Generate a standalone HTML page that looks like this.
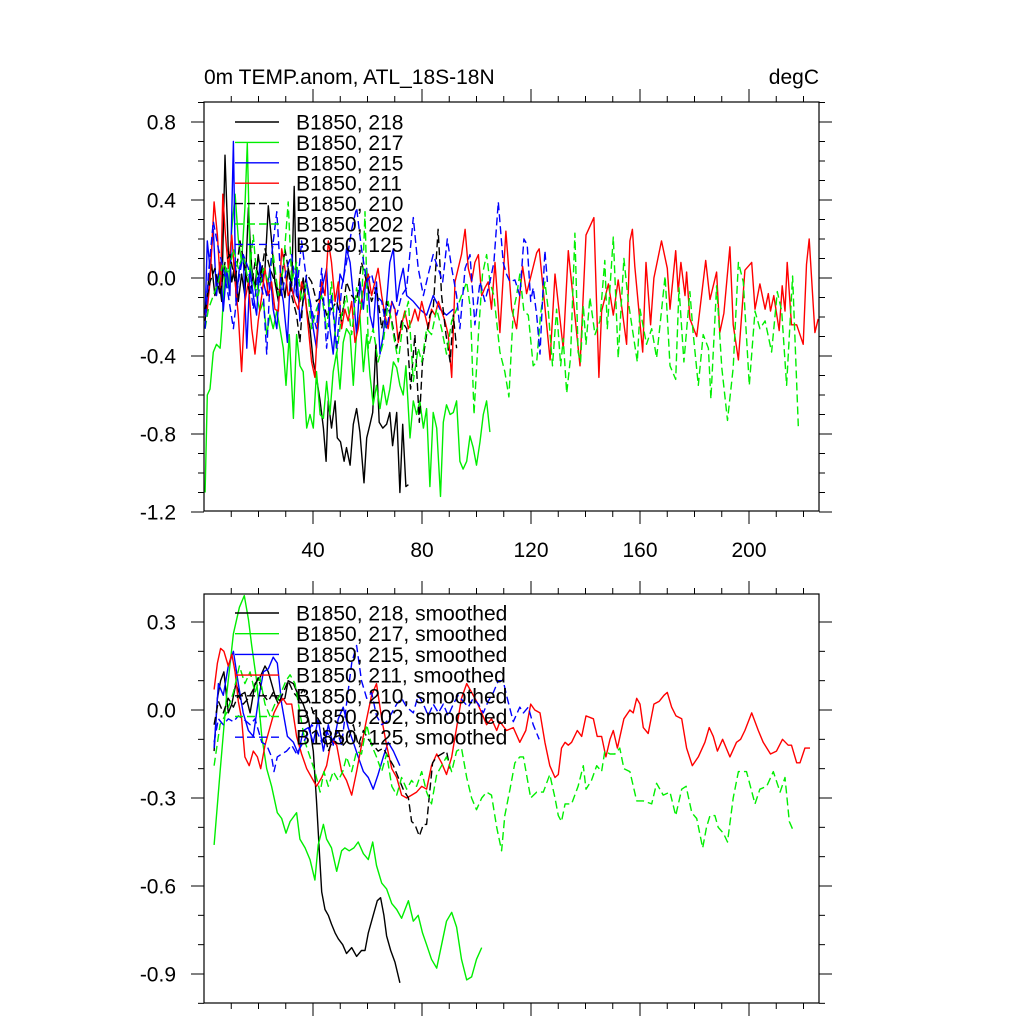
<!DOCTYPE html>
<html><head><meta charset="utf-8"><style>
html,body{margin:0;padding:0;background:#fff;}
svg text{font-family:"Liberation Sans",sans-serif;fill:#000;}
</style></head><body>
<svg id="chart" width="1024" height="1024" viewBox="0 0 1024 1024" xmlns="http://www.w3.org/2000/svg">
<defs>
<clipPath id="clipTop"><rect x="204" y="102" width="615" height="409"/></clipPath>
<clipPath id="clipBot"><rect x="204" y="594" width="615" height="409"/></clipPath>
</defs>
<rect width="1024" height="1024" fill="#fff"/>
<text x="204" y="84" font-size="21">0m TEMP.anom, ATL_18S-18N</text>
<text x="819" y="84" font-size="21" text-anchor="end">degC</text>
<g id="top"></g>
<g id="bot"></g>
</svg>
<script>
// ---------- data: raw annual anomalies ----------
const names = ["B1850, 218","B1850, 217","B1850, 215","B1850, 211","B1850, 210","B1850, 202","B1850, 125"];
const colors = ["#000","#00ee00","#0000ff","#ff0000","#000","#00ee00","#0000ff"];
const dashed = [false,false,false,false,true,true,true];
const topTicksY = [0.8,0.4,0.0,-0.4,-0.8,-1.2];
const topTickLabels = ["0.8","0.4","0.0","-0.4","-0.8","-1.2"];
const botTicksY = [0.3,0.0,-0.3,-0.6,-0.9];
const botTickLabels = ["0.3","0.0","-0.3","-0.6","-0.9"];
const xTicks = [40,80,120,160,200];
const xTickLabels = ["40","80","120","160","200"];

const yr218 = [0.4,1.6,2.8,4.0,5.3,6.5,7.7,8.9,10.2,11.4,12.6,13.8,15.0,16.3,17.5,18.7,19.9,21.2,22.4,23.6,24.8,26.0,27.3,28.5,29.7,30.9,32.2,33.1,34.0,35.2,36.4,37.7,38.9,40.1,41.3,42.6,43.8,44.8,45.6,46.8,48.1,48.9,50.1,51.4,52.3,53.6,54.8,56.0,57.2,58.7,59.7,60.9,61.9,63.1,64.3,65.6,67.0,68.2,69.2,70.7,71.9,72.9,74.1,75.0];
const val218 = [-0.22,-0.02,0.07,-0.09,0.02,-0.12,0.63,0.14,-0.02,0.08,-0.12,0.02,-0.09,0.36,0.05,-0.05,0.12,-0.02,0.05,0.37,0.19,-0.02,-0.12,0.02,-0.1,0.05,-0.04,0.47,-0.09,-0.12,0.0,-0.16,-0.26,-0.43,-0.51,-0.63,-0.77,-0.94,-0.63,-0.77,-0.63,-0.82,-0.84,-0.94,-0.87,-0.96,-0.75,-0.67,-0.79,-1.05,-0.82,-0.75,-0.69,-0.34,-0.74,-0.77,-0.75,-0.69,-0.86,-0.69,-1.1,-0.75,-1.07,-1.06];

const yr217 = [0.4,1.2,2.2,3.4,4.6,5.9,6.5,7.7,8.9,10.2,11.4,12.6,13.8,15.0,15.9,16.9,18.1,19.3,20.5,21.8,23.0,24.2,25.4,26.7,27.9,29.1,30.1,31.3,32.8,34.0,35.2,36.4,37.7,38.9,40.1,41.3,42.6,43.8,45.0,46.2,47.4,48.7,49.9,51.1,52.3,53.6,54.8,56.0,57.2,58.5,59.7,60.9,62.1,63.3,64.6,65.8,67.0,68.2,69.5,70.7,71.9,73.1,74.1,75.6,76.8,78.0,79.2,80.5,81.7,82.9,84.1,85.4,86.8,87.8,89.0,90.3,91.5,92.7,93.9,95.1,96.4,97.6,98.8,100.0,101.3,102.5,103.7,104.9];
const val217 = [-1.1,-0.6,-0.57,-0.38,-0.34,-0.36,-0.26,0.05,-0.05,0.25,0.43,0.2,0.08,0.36,0.69,0.08,-0.02,-0.09,-0.17,-0.12,-0.29,-0.19,-0.26,-0.17,-0.26,-0.36,-0.55,-0.29,-0.72,-0.29,-0.45,-0.48,-0.77,-0.7,-0.77,-0.48,-0.7,-0.72,-0.53,-0.7,-0.48,-0.38,-0.57,-0.33,-0.26,-0.29,-0.55,-0.28,-0.19,-0.48,-0.29,-0.5,-0.65,-0.55,-0.67,-0.55,-0.65,-0.57,-0.43,-0.46,-0.55,-0.6,-0.45,-0.82,-0.63,-0.7,-0.63,-0.77,-0.67,-1.07,-0.69,-0.77,-1.12,-0.74,-0.65,-0.7,-0.69,-0.63,-0.94,-0.98,-0.94,-0.81,-0.87,-0.96,-0.84,-0.7,-0.63,-0.79];

const yr215 = [0.4,1.2,2.2,3.4,4.6,5.9,7.1,8.3,9.5,10.8,11.7,13.0,14.4,15.7,16.9,18.1,19.3,20.5,21.8,23.0,24.2,25.4,26.7,27.9,29.1,30.6,31.6,32.8,34.0,35.2,36.4,37.7,38.9,40.1,41.3,42.6,43.8,45.0,46.2,47.4,48.7,49.9,51.1,52.3,53.6,54.8,56.0,57.2,58.5,59.7,60.9,62.1,63.3,64.6,65.8,67.0,68.2,69.5,70.7,71.9,73.1,74.4,76.8,79.2,81.7,84.1,86.6,89.0,91.5];
const val215 = [-0.19,0.19,0.05,0.25,-0.09,0.08,-0.17,0.05,-0.09,0.7,-0.12,0.05,0.12,-0.36,0.05,-0.09,-0.19,0.08,-0.02,-0.09,0.05,-0.16,-0.26,-0.02,-0.12,-0.33,-0.02,-0.09,0.05,-0.22,-0.12,-0.02,-0.12,-0.26,-0.36,-0.12,-0.02,0.05,-0.26,-0.39,-0.17,0.02,-0.02,0.15,0.08,-0.09,-0.29,-0.02,-0.16,0.05,-0.19,-0.26,-0.02,-0.39,-0.29,-0.12,0.08,0.15,-0.12,-0.02,0.05,-0.09,-0.12,-0.16,-0.19,-0.09,-0.16,-0.19,-0.16];

const yr211 = [0.4,1.2,2.2,3.7,4.9,6.1,6.9,7.7,8.9,10.2,11.4,12.6,13.8,15.0,16.3,17.5,18.7,19.9,21.2,22.4,23.6,24.8,26.0,27.3,28.5,29.7,30.9,32.2,33.4,34.6,35.8,37.1,38.3,39.5,40.7,41.9,43.2,44.4,45.6,46.8,48.1,49.3,50.5,51.7,52.9,54.2,55.4,56.6,57.8,59.1,60.3,61.5,62.7,63.9,65.2,66.4,67.6,68.9,70.1,71.3,72.5,73.7,75.0,76.2,77.4,78.6,79.9,81.1,82.3,83.5,84.8,86.0,87.2,88.4,89.6,90.9,92.1,93.3,94.5,95.8,97.0,98.2,99.4,100.7,101.9,103.1,104.3,105.5,106.8,108.6,110.8,112.9,114.7,116.9,118.4,122.1,123.0,127.0,128.8,131.8,133.7,138.0,140.2,143.1,144.9,145.9,148.4,150.2,152.0,155.1,156.3,157.2,158.1,161.0,162.2,163.9,165.1,167.9,170.0,171.0,173.1,174.0,175.0,176.5,177.1,178.3,180.8,184.1,185.7,188.1,189.3,190.8,193.0,194.2,196.1,198.5,201.0,202.2,204.0,205.9,207.1,207.9,209.1,211.1,212.2,213.2,214.0,215.6,217.5,219.9,221.1,222.1,224.2,225.4];
const val211 = [-0.19,-0.16,-0.02,0.39,0.22,-0.05,0.43,0.25,0.05,0.22,-0.02,-0.19,-0.48,-0.12,-0.02,-0.26,-0.39,-0.22,-0.09,0.05,-0.09,-0.02,-0.16,-0.17,0.15,0.05,-0.09,-0.05,-0.12,-0.16,-0.02,-0.09,-0.26,-0.43,-0.51,-0.17,-0.02,-0.09,0.19,0.08,-0.12,-0.02,-0.26,-0.16,-0.22,-0.12,-0.33,-0.26,-0.12,-0.02,0.02,-0.09,-0.02,0.05,-0.09,-0.19,-0.26,-0.12,-0.16,-0.33,-0.24,-0.17,-0.26,-0.22,-0.16,-0.22,-0.12,-0.19,-0.26,-0.16,-0.19,-0.12,-0.17,-0.22,-0.29,-0.51,-0.02,0.05,0.12,0.25,0.05,-0.02,0.08,0.12,-0.09,-0.05,-0.02,-0.16,0.08,-0.28,0.24,-0.16,-0.26,0.06,-0.08,0.13,0.15,-0.42,0.02,-0.36,0.14,-0.45,0.22,0.31,-0.51,-0.17,-0.03,-0.19,-0.01,-0.34,0.19,0.25,0.06,-0.38,0.08,-0.24,0.0,0.19,0.05,-0.16,0.14,-0.07,0.08,-0.09,0.03,-0.21,-0.3,0.09,-0.11,0.03,-0.28,-0.18,0.16,-0.24,-0.42,0.04,0.08,-0.16,-0.03,-0.16,-0.08,-0.17,-0.09,-0.27,-0.04,-0.17,0.08,-0.24,-0.24,-0.34,0.07,0.2,-0.28,-0.21];

const yr210 = [0.4,2.2,4.0,5.9,7.7,9.5,11.4,13.2,15.0,16.9,18.7,20.5,22.4,24.2,26.0,27.9,29.7,30.9,32.2,34.0,35.2,36.4,37.7,39.5,41.3,43.2,45.0,46.8,48.7,50.5,52.3,54.2,56.0,57.8,59.7,61.5,63.3,65.2,67.0,68.9,70.7,72.5,74.4,75.8,77.4,79.0,80.2,81.7,82.9,84.1,85.9,87.2,88.8,90.3,91.5,92.7];
const val210 = [-0.16,-0.02,0.05,-0.09,0.08,0.12,-0.02,0.19,0.05,-0.09,0.08,-0.02,0.15,0.05,-0.02,-0.09,0.15,0.05,-0.09,-0.19,-0.33,-0.09,0.02,-0.02,-0.12,-0.09,-0.19,-0.16,-0.12,-0.22,-0.02,-0.09,-0.12,0.08,-0.02,-0.12,-0.05,-0.26,-0.12,-0.22,-0.36,-0.22,-0.26,-0.57,-0.29,-0.74,-0.43,-0.29,-0.19,-0.16,0.25,-0.09,-0.29,-0.43,-0.19,-0.36];

const yr202 = [0.4,1.6,3.4,5.3,7.1,8.9,10.8,12.6,14.4,16.3,18.1,19.9,21.8,23.6,25.4,27.3,29.1,30.9,32.2,34.0,35.8,37.7,39.5,41.3,43.2,45.0,46.8,48.7,50.5,52.3,54.2,56.0,57.8,59.1,60.3,62.1,63.9,65.8,67.6,69.5,71.3,73.1,75.0,76.8,78.6,79.9,81.7,83.5,85.4,87.2,89.0,90.9,92.7,94.5,96.4,97.8,99.1,100.7,102.2,103.7,104.9,106.4,108.6,110.4,111.9,113.5,114.7,115.9,117.4,119.0,120.8,122.1,123.5,125.1,126.3,127.9,129.4,130.9,131.8,133.1,134.5,136.1,137.3,138.2,139.2,140.2,141.6,143.5,145.3,147.1,148.0,150.2,152.0,154.1,155.7,157.3,159.0,160.0,162.4,164.3,166.1,169.2,171.0,173.1,174.3,176.1,178.3,179.5,181.4,183.2,185.1,186.0,188.1,190.0,192.1,194.2,196.1,197.9,200.1,202.2,204.0,205.9,208.3,210.4,212.0,213.8,216.0,218.1];
const val202 = [-0.26,-0.16,-0.09,-0.02,0.08,0.02,0.15,0.05,0.12,-0.02,0.22,-0.09,0.05,-0.02,0.12,-0.09,0.05,0.39,-0.02,0.08,-0.12,-0.02,-0.26,-0.16,-0.09,-0.26,-0.02,-0.39,-0.19,-0.09,-0.29,-0.05,-0.16,0.34,-0.36,-0.26,-0.43,-0.33,-0.12,-0.29,-0.43,-0.22,-0.12,-0.53,-0.36,-0.43,-0.26,-0.29,-0.16,-0.26,-0.39,-0.22,-0.16,-0.09,-0.02,-0.16,-0.7,-0.29,0.02,0.12,-0.02,-0.09,-0.38,-0.48,-0.61,-0.17,-0.09,0.02,-0.17,-0.19,-0.45,-0.43,-0.19,-0.02,-0.16,-0.45,-0.16,-0.45,-0.31,-0.59,-0.41,0.23,-0.38,-0.43,-0.14,-0.34,-0.1,-0.29,-0.22,0.09,-0.26,0.21,-0.41,0.1,-0.12,-0.27,-0.43,-0.16,-0.34,-0.26,-0.41,0.01,-0.45,-0.52,-0.05,-0.43,-0.07,-0.28,-0.55,-0.29,-0.36,-0.62,-0.04,-0.46,-0.73,-0.46,0.08,-0.02,-0.55,-0.17,-0.26,-0.22,-0.38,-0.07,-0.17,-0.55,0.01,-0.76];

const yr125 = [0.4,1.6,3.4,5.3,7.1,8.9,10.8,12.6,14.4,16.3,18.1,19.9,21.8,23.0,24.5,26.7,28.5,30.3,32.2,34.0,35.8,37.7,39.5,41.3,43.2,45.0,46.8,48.7,50.5,52.3,54.2,56.0,57.8,59.7,61.5,63.3,65.2,67.0,68.9,70.7,72.5,74.4,76.8,78.6,80.5,82.3,84.1,85.9,87.6,89.3,90.9,92.7,93.9,95.8,97.6,99.4,101.3,103.1,104.9,106.4,108.0,109.8,111.0,112.3,114.1,115.9,117.4,118.6,119.9,120.8,122.1,123.3,124.3,125.1,126.0];
const val125 = [-0.26,0.02,0.29,0.15,0.05,-0.09,-0.26,-0.02,0.12,0.05,-0.16,0.02,-0.09,-0.39,0.08,0.34,-0.09,0.05,0.12,-0.09,0.19,-0.02,-0.16,-0.26,0.05,-0.36,-0.09,-0.36,-0.05,0.08,0.25,0.36,0.15,-0.02,0.02,-0.09,-0.12,-0.26,-0.12,-0.19,-0.09,-0.05,0.31,0.05,-0.09,0.02,0.12,0.05,-0.02,0.2,0.05,-0.09,-0.26,0.05,0.12,-0.24,-0.02,-0.12,-0.02,0.08,0.39,0.08,0.02,-0.02,-0.01,-0.09,0.2,0.17,-0.12,-0.05,-0.19,-0.39,-0.09,0.14,-0.02];

// ---------- data: smoothed ----------
const syr218 = [3.7,4.9,6.1,7.3,8.9,10.2,11.7,13.2,15.0,16.9,18.7,20.5,22.4,23.6,24.8,26.0,27.9,29.7,30.9,32.8,34.6,36.4,38.3,40.1,41.3,42.3,43.2,44.4,45.6,46.8,48.1,49.3,50.9,52.3,54.2,56.0,57.8,59.1,60.3,62.1,63.6,64.8,66.0,67.0,68.5,70.1,71.9];
const sval218 = [-0.14,0.04,0.1,0.13,-0.01,0.02,0.09,0.05,0.06,-0.01,0.09,0.11,0.15,0.13,0.09,0.05,0.03,0.04,0.1,0.09,0.05,0.02,-0.03,-0.14,-0.31,-0.48,-0.62,-0.68,-0.7,-0.73,-0.76,-0.78,-0.8,-0.83,-0.81,-0.84,-0.82,-0.82,-0.76,-0.7,-0.65,-0.64,-0.7,-0.77,-0.82,-0.86,-0.93];
const syr217 = [3.7,5.9,8.3,10.8,13.0,14.8,16.3,17.5,19.3,21.2,23.0,24.8,26.9,28.5,30.1,31.6,34.0,35.2,37.1,38.9,40.7,41.9,43.8,45.0,46.8,48.7,50.5,51.7,53.3,55.0,56.6,58.5,60.3,61.9,63.3,65.2,67.0,68.9,70.7,72.5,75.0,76.8,78.6,80.2,81.7,83.5,85.4,87.2,89.0,90.9,92.7,94.5,96.4,98.2,100.0,101.9];
const sval217 = [-0.46,-0.21,0.05,0.26,0.35,0.39,0.31,0.22,0.1,-0.09,-0.2,-0.26,-0.35,-0.37,-0.42,-0.38,-0.35,-0.44,-0.47,-0.51,-0.58,-0.46,-0.39,-0.44,-0.47,-0.55,-0.48,-0.47,-0.48,-0.47,-0.45,-0.49,-0.51,-0.45,-0.53,-0.59,-0.61,-0.66,-0.68,-0.71,-0.65,-0.72,-0.7,-0.76,-0.8,-0.85,-0.88,-0.8,-0.72,-0.69,-0.74,-0.85,-0.92,-0.91,-0.85,-0.81];
const syr215 = [3.7,5.3,7.1,8.9,10.8,12.6,14.4,16.3,18.1,19.9,21.8,23.6,25.4,26.9,28.5,30.6,32.8,34.6,36.4,38.3,40.1,41.9,43.8,45.6,47.4,49.3,51.1,52.9,54.8,56.6,58.5,60.3,62.1,63.9,65.8,67.6,69.5,71.9];
const sval215 = [-0.13,0.09,0.05,0.15,0.2,0.09,-0.01,-0.07,-0.09,0.03,0.13,0.14,0.18,0.16,0.02,-0.09,-0.11,-0.15,-0.07,-0.06,-0.11,-0.03,-0.14,-0.05,-0.12,-0.03,0.01,-0.06,-0.11,-0.16,-0.21,-0.23,-0.27,-0.22,-0.16,-0.11,-0.14,-0.19];
const syr211 = [3.7,4.9,6.1,7.3,8.9,10.2,11.4,12.6,13.8,15.0,16.6,18.1,19.6,20.8,22.4,24.2,25.7,27.3,28.9,30.3,32.2,34.0,35.8,37.7,39.5,41.3,43.2,45.0,46.8,48.7,50.5,52.3,54.2,56.0,57.8,59.7,61.5,63.3,65.2,67.0,68.9,70.7,72.5,74.4,76.2,78.0,79.9,81.7,83.5,85.4,87.2,89.0,90.9,92.7,94.5,96.4,98.2,100.0,101.9,103.7,105.5,107.4,108.6,111.0,113.5,115.9,118.1,119.9,121.4,123.3,125.1,126.9,128.8,130.0,131.2,132.5,133.7,134.9,137.0,138.6,140.2,142.9,144.3,145.9,147.5,149.0,150.2,151.7,154.1,156.3,157.5,158.8,160.0,161.2,163.0,165.1,167.1,168.8,170.0,171.6,173.2,175.3,177.1,179.2,181.4,183.8,185.4,186.9,188.4,190.3,193.0,195.4,196.9,198.5,201.0,203.4,205.2,207.9,210.1,212.3,214.4,215.6,217.5,218.7,220.5,222.4];
const sval211 = [0.07,0.16,0.21,0.2,0.15,0.19,0.13,0.03,-0.03,-0.16,-0.19,-0.14,-0.16,-0.2,-0.12,-0.06,-0.01,0.02,0.04,0.02,0.02,-0.09,-0.15,-0.2,-0.23,-0.26,-0.23,-0.19,-0.1,-0.12,-0.21,-0.24,-0.29,-0.21,-0.12,-0.03,0.05,0.09,-0.03,-0.12,-0.2,-0.23,-0.29,-0.3,-0.29,-0.28,-0.26,-0.27,-0.19,-0.15,-0.18,-0.22,-0.16,-0.06,0.04,0.09,0.06,0.03,-0.01,-0.05,-0.03,-0.07,-0.04,-0.07,-0.06,-0.11,-0.07,0.02,0.0,-0.01,-0.11,-0.19,-0.23,-0.22,-0.13,-0.11,-0.12,-0.11,-0.07,-0.09,-0.02,-0.03,-0.09,-0.09,-0.16,-0.1,-0.07,-0.13,-0.03,0.0,-0.01,0.04,0.02,-0.06,-0.08,0.02,0.03,0.05,0.06,0.01,-0.02,-0.03,-0.13,-0.19,-0.16,-0.11,-0.06,-0.09,-0.14,-0.1,-0.16,-0.11,-0.1,-0.07,-0.01,-0.07,-0.11,-0.15,-0.14,-0.1,-0.12,-0.12,-0.18,-0.18,-0.13,-0.13];
const syr210 = [3.7,5.3,7.1,8.9,10.8,12.6,14.4,16.3,18.1,19.9,21.8,23.6,25.4,27.3,29.1,30.9,32.8,34.6,36.4,38.3,40.1,41.9,43.8,45.6,47.4,49.3,51.1,52.9,54.8,56.6,58.5,60.3,62.1,63.9,65.8,67.6,69.5,71.3,73.1,75.0,76.2,77.4,79.0,80.5,81.7,82.7,83.9,85.4,87.2,89.0,90.3];
const sval210 = [-0.05,0.03,-0.01,0.04,0.01,0.05,0.02,0.04,0.07,0.11,0.05,0.03,0.06,0.02,0.06,0.1,0.06,0.04,0.07,0.04,-0.01,-0.03,-0.06,-0.14,-0.1,-0.07,-0.12,-0.1,-0.05,-0.12,-0.07,-0.1,-0.12,-0.14,-0.13,-0.16,-0.19,-0.23,-0.27,-0.3,-0.38,-0.39,-0.43,-0.39,-0.39,-0.29,-0.18,-0.16,-0.15,-0.14,-0.2];
const syr202 = [3.7,5.9,8.3,10.8,13.0,15.0,16.9,18.7,20.5,22.4,24.2,26.0,27.9,30.1,31.6,33.4,35.2,37.1,38.9,40.7,42.6,44.0,45.6,47.4,49.3,50.9,52.3,54.2,56.0,57.8,59.7,61.5,63.3,65.2,67.0,68.9,70.7,72.5,74.4,76.2,78.0,79.9,81.7,83.5,85.4,87.2,89.0,90.9,92.7,94.5,96.4,98.2,100.0,101.9,103.7,105.5,107.4,109.2,110.4,112.3,114.1,115.9,117.2,119.9,122.1,124.5,126.9,128.8,130.0,131.2,132.5,134.9,137.3,139.2,140.2,142.2,144.1,145.9,147.1,149.0,150.8,152.6,154.1,156.3,158.8,161.2,164.3,166.1,168.5,171.0,173.1,175.3,176.9,179.0,180.8,183.0,184.4,185.7,187.5,188.7,190.6,192.1,194.2,196.1,199.1,202.2,204.0,206.5,208.9,211.4,213.2,214.8,216.2];
const sval202 = [-0.19,-0.05,-0.01,0.06,0.15,0.09,0.13,0.06,0.11,0.02,-0.02,0.02,0.05,0.1,0.12,0.09,-0.01,-0.11,-0.16,-0.21,-0.28,-0.21,-0.26,-0.21,-0.24,-0.21,-0.16,-0.21,-0.14,-0.15,-0.05,-0.12,-0.16,-0.21,-0.15,-0.26,-0.29,-0.23,-0.27,-0.24,-0.26,-0.21,-0.28,-0.32,-0.22,-0.19,-0.16,-0.21,-0.14,-0.13,-0.23,-0.3,-0.34,-0.3,-0.28,-0.29,-0.4,-0.48,-0.36,-0.27,-0.18,-0.16,-0.16,-0.3,-0.28,-0.28,-0.22,-0.3,-0.36,-0.38,-0.32,-0.32,-0.26,-0.19,-0.27,-0.24,-0.19,-0.21,-0.14,-0.15,-0.15,-0.13,-0.2,-0.21,-0.31,-0.31,-0.32,-0.25,-0.29,-0.28,-0.36,-0.27,-0.26,-0.35,-0.37,-0.47,-0.4,-0.36,-0.36,-0.4,-0.42,-0.45,-0.3,-0.21,-0.21,-0.32,-0.27,-0.26,-0.21,-0.28,-0.23,-0.38,-0.41];
const syr125 = [3.7,5.3,7.1,8.9,10.8,12.6,14.4,16.9,18.7,21.2,23.0,24.8,25.7,26.9,28.5,30.3,32.2,34.0,35.8,37.7,39.5,41.3,43.2,45.0,46.8,48.7,50.5,52.3,54.2,56.0,57.8,59.7,61.5,63.3,65.2,67.0,68.9,70.7,72.5,74.4,76.8,78.6,80.5,82.3,84.1,86.0,87.8,89.6,91.5,93.3,95.1,97.0,98.8,100.7,102.5,104.3,106.2,108.0,109.8,111.0,113.5,115.9,117.2,119.0,120.8,123.0];
const sval125 = [-0.11,-0.03,-0.05,-0.03,-0.04,-0.02,-0.03,-0.05,-0.03,-0.11,-0.12,-0.16,-0.21,-0.16,-0.15,-0.14,-0.12,-0.15,-0.12,-0.09,-0.05,-0.07,-0.11,-0.07,-0.11,-0.07,-0.12,0.02,0.16,0.22,0.1,0.04,0.06,-0.02,-0.05,-0.04,-0.01,0.02,0.04,0.01,-0.01,0.05,0.02,-0.02,0.02,-0.01,0.02,-0.02,0.02,0.05,0.03,0.01,0.04,0.02,-0.01,0.03,0.06,0.1,0.1,0.05,-0.04,0.01,-0.01,0.01,-0.05,-0.1];

const rawYears = [yr218,yr217,yr215,yr211,yr210,yr202,yr125];
const rawVals = [val218,val217,val215,val211,val210,val202,val125];
const smYears = [syr218,syr217,syr215,syr211,syr210,syr202,syr125];
const smVals = [sval218,sval217,sval215,sval211,sval210,sval202,sval125];

// ---------- axes ----------
const NS = "http://www.w3.org/2000/svg";
const X0 = 204, X1 = 819;
function xs(yr){ return 313 + (yr - 40) * 2.725; }
const panels = [
  {g:"top", y0:102, y1:511, ys:v => 278 - v*195, ticks:topTicksY, labels:topTickLabels, minorFrom:-1.2, minorTo:0.9, clip:"clipTop", showX:true, yrs:rawYears, vals:rawVals, suffix:"", legY:122, legDy:20.4},
  {g:"bot", y0:594, y1:1003, ys:v => 710 - v*293.33, ticks:botTicksY, labels:botTickLabels, minorFrom:-1.0, minorTo:0.4, clip:"clipBot", showX:false, yrs:smYears, vals:smVals, suffix:", smoothed", legY:613, legDy:20.7}
];
function mk(tag, attrs, parent){
  const e = document.createElementNS(NS, tag);
  for (const k in attrs) e.setAttribute(k, attrs[k]);
  parent.appendChild(e); return e;
}
panels.forEach((p, pi) => {
  const g = document.getElementById(p.g);
  const pre = pi === 0 ? "top" : "bottom";
  const sg = mk("g", {"clip-path":"url(#"+p.clip+")"}, g);
  
  
  p.yrs.forEach((yrArr, si) => {
    const d = yrArr.map((y, i) => (i ? "L" : "M") + xs(y).toFixed(1) + " " + p.ys(p.vals[si][i]).toFixed(1)).join(" ");
    const path = mk("path", {d:d, fill:"none", stroke:colors[si], "stroke-width":"1.4", "stroke-linejoin":"round"}, sg);
    if (dashed[si]) path.setAttribute("stroke-dasharray", "8 4");
    
    
  });
  const fr = mk("rect", {x:X0, y:p.y0, width:X1-X0, height:p.y1-p.y0, fill:"none", stroke:"#000", "stroke-width":"1.2"}, g);
  
  
  const tg = mk("g", {stroke:"#000", "stroke-width":"1"}, g);
  
  
  for (let t = 10; t <= 220; t += 10) {
    const len = (t % 40 === 0) ? 13 : 6;
    const x = xs(t);
    mk("line", {x1:x, x2:x, y1:p.y0, y2:p.y0-len}, tg);
    mk("line", {x1:x, x2:x, y1:p.y1, y2:p.y1+len}, tg);
  }
  for (let k = Math.round(p.minorFrom*10); k <= Math.round(p.minorTo*10); k++) {
    const y = p.ys(k/10);
    if (y < p.y0 - 0.5 || y > p.y1 + 0.5) continue;
    mk("line", {x1:X0, x2:X0-6, y1:y, y2:y}, tg);
    mk("line", {x1:X1, x2:X1+6, y1:y, y2:y}, tg);
  }
  p.ticks.forEach((v, i) => {
    const y = p.ys(v);
    mk("line", {x1:X0, x2:X0-13, y1:y, y2:y}, tg);
    mk("line", {x1:X1, x2:X1+13, y1:y, y2:y}, tg);
    const t = mk("text", {x:176, y:y+7.5, "font-size":"21", "text-anchor":"end"}, g);
    t.textContent = p.labels[i];
    
    
  });
  if (p.showX) {
    xTicks.forEach((v, i) => {
      const t = mk("text", {x:xs(v), y:557, "font-size":"21", "text-anchor":"middle"}, g);
      t.textContent = xTickLabels[i];
      
      
    });
  }
  const lg = mk("g", {}, g);
  
  
  names.forEach((n, si) => {
    const y = p.legY + si * p.legDy;
    const e = mk("g", {}, lg);
    
    
    const ln = mk("line", {x1:235, x2:279, y1:y, y2:y, stroke:colors[si], "stroke-width":"1.4"}, e);
    if (dashed[si]) ln.setAttribute("stroke-dasharray", "8 4");
    const t = mk("text", {x:296, y:y+7.5, "font-size":"21"}, e);
    t.textContent = n + p.suffix;
  });
});
</script>
</body></html>
